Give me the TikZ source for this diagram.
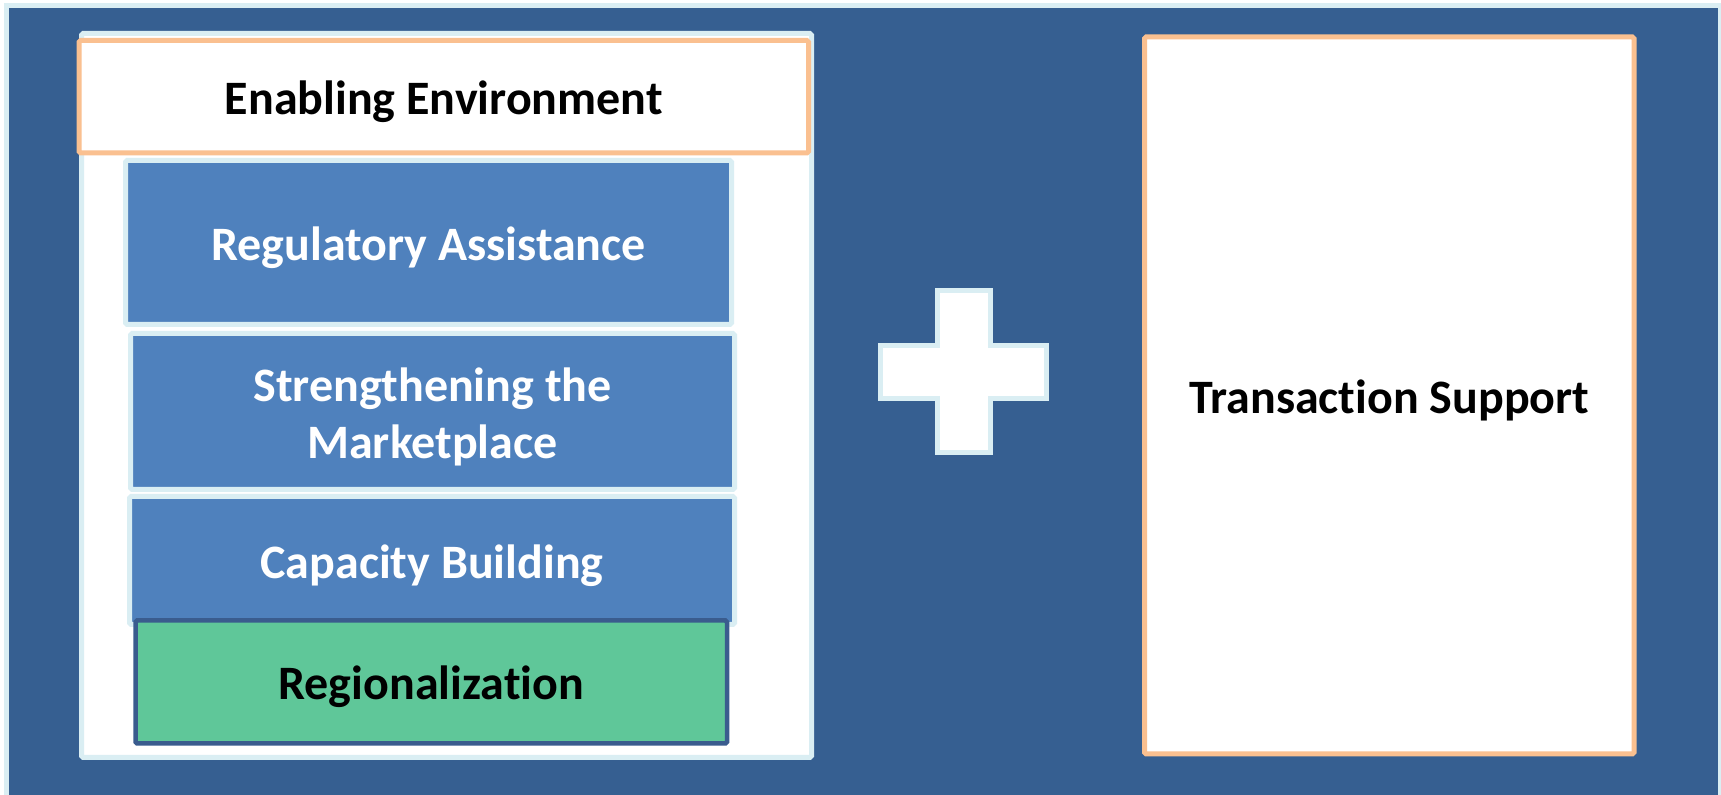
\documentclass[tikz,border=0pt]{standalone}
\usepackage{fontspec}
\setmainfont{Carlito}[RawFeature=-liga]
\definecolor{framebg}{HTML}{365F91}
\definecolor{paleedge}{HTML}{DAEEF3}
\definecolor{boxblue}{HTML}{4F81BD}
\definecolor{peach}{HTML}{FAC090}
\definecolor{mint}{HTML}{5FC799}
\definecolor{mintedge}{HTML}{3A5C8E}
\tikzset{
  px/.style={x=0.5pt,y=-0.5pt},
  label font/.style={font=\fontsize{24}{28.5}\selectfont\bfseries, align=center},
  panel/.style={draw=paleedge, line width=2.5pt, fill=white, inner sep=0pt, outer sep=0pt, rounded corners=0.8pt},
  titlebox/.style={draw=peach, line width=2.5pt, fill=white, inner sep=0pt, outer sep=0pt, rounded corners=0.8pt},
  layerbox/.style={draw=paleedge, line width=2.5pt, fill=boxblue, inner sep=0pt, outer sep=0pt, rounded corners=0.8pt},
  regionbox/.style={draw=mintedge, line width=2.25pt, fill=mint, inner sep=0pt, outer sep=0pt, rounded corners=0.8pt},
  caption/.style={label font, text=#1, inner sep=0pt, yshift=-2.5pt},
}
\begin{document}
\begin{tikzpicture}[px]
  \useasboundingbox (0,0) rectangle (1721,795);
  \fill[white] (0,0) rectangle (1721,795);
  % dark frame with pale rim
  \draw[draw=paleedge, fill=framebg, line width=2.5pt] (6.5,810) -- (6.5,5.5) -- (1720.5,5.5) -- (1720.5,810);

  % left column: enabling environment and its layers
  \node[panel, minimum width=365pt, minimum height=362pt] (envpanel) at (446.5,395.5) {};
  \node[titlebox, minimum width=364.75pt, minimum height=56.25pt] (enabling) at (443.75,96.75) {};
  \node[layerbox, minimum width=303pt, minimum height=82pt] (regulatory) at (428.5,242.5) {};
  \node[layerbox, minimum width=302pt, minimum height=78pt] (marketplace) at (432.5,411.5) {};
  \node[layerbox, minimum width=302.5pt, minimum height=64pt] (capacity) at (432,560.5) {};
  \node[regionbox, minimum width=295.75pt, minimum height=61.5pt] (regional) at (431.25,682) {};

  % plus sign
  \draw[draw=paleedge, fill=white, line width=2.5pt]
    (937.5,290.5) -- (990.5,290.5) -- (990.5,345.5) -- (1046.5,345.5) -- (1046.5,398.5)
    -- (990.5,398.5) -- (990.5,452.5) -- (937.5,452.5) -- (937.5,398.5) -- (880.5,398.5)
    -- (880.5,345.5) -- (937.5,345.5) -- cycle;

  % right column
  \node[titlebox, minimum width=244.75pt, minimum height=358.5pt] (transaction) at (1389.25,395.5) {};

  % captions
  \node[caption=black] (enablingtext) at (enabling.center) {Enabling Environment};
  \node[caption=white] (regulatorytext) at (regulatory.center) {Regulatory Assistance};
  \node[caption=white] (marketplacetext) at (marketplace.center) {Strengthening the\\Marketplace};
  \node[caption=white] (capacitytext) at (capacity.center) {Capacity Building};
  \node[caption=black] (regionaltext) at (regional.center) {Regionalization};
  \node[caption=black] (transactiontext) at (transaction.center) {Transaction Support};
\end{tikzpicture}
\end{document}
